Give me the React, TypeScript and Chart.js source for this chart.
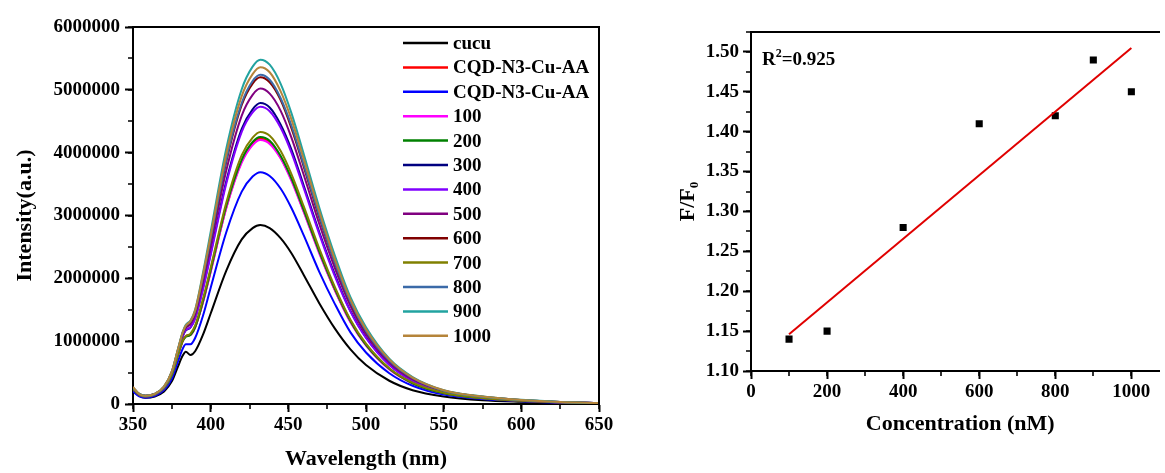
import React, { useEffect, useRef } from 'react';
import { Chart, registerables } from 'chart.js';

Chart.register(...registerables);

const FONT = "'Liberation Serif', 'Times New Roman', serif";

// ---------- Left panel: emission spectra (intensity in millions of a.u.) ----------
const WAVELENGTHS = [350, 354, 358, 364, 370, 375, 379, 382, 384, 387, 390, 395, 400, 410, 420, 427, 432, 438, 445, 452, 460, 470, 480, 490, 500, 515, 530, 550, 575, 600, 625, 650];

const CUCU = [0.22, 0.13, 0.10, 0.12, 0.20, 0.36, 0.60, 0.77, 0.83, 0.78, 0.84, 1.10, 1.44, 2.12, 2.62, 2.80, 2.85, 2.80, 2.64, 2.40, 2.05, 1.60, 1.20, 0.87, 0.62, 0.37, 0.22, 0.12, 0.06, 0.035, 0.02, 0.01];
const CQD_RED = [0.24, 0.14, 0.12, 0.15, 0.25, 0.46, 0.78, 1.00, 1.08, 1.10, 1.22, 1.62, 2.11, 3.12, 3.86, 4.14, 4.22, 4.16, 3.92, 3.57, 3.06, 2.41, 1.81, 1.31, 0.94, 0.56, 0.33, 0.17, 0.09, 0.05, 0.025, 0.01];
const CQD_BLUE = [0.20, 0.12, 0.10, 0.13, 0.22, 0.40, 0.68, 0.88, 0.95, 0.95, 1.05, 1.40, 1.85, 2.73, 3.38, 3.62, 3.69, 3.63, 3.43, 3.12, 2.68, 2.10, 1.59, 1.14, 0.82, 0.49, 0.29, 0.15, 0.08, 0.045, 0.02, 0.01];
const S100 = [0.24, 0.14, 0.12, 0.15, 0.25, 0.46, 0.78, 1.00, 1.08, 1.10, 1.22, 1.61, 2.10, 3.11, 3.84, 4.12, 4.20, 4.14, 3.91, 3.55, 3.05, 2.39, 1.81, 1.30, 0.93, 0.55, 0.33, 0.17, 0.09, 0.05, 0.025, 0.01];
const S200 = [0.24, 0.14, 0.12, 0.15, 0.25, 0.46, 0.78, 1.00, 1.07, 1.10, 1.22, 1.63, 2.13, 3.15, 3.89, 4.17, 4.25, 4.19, 3.95, 3.59, 3.08, 2.42, 1.83, 1.32, 0.94, 0.56, 0.33, 0.17, 0.09, 0.05, 0.025, 0.01];
const S300 = [0.25, 0.15, 0.12, 0.15, 0.26, 0.49, 0.83, 1.08, 1.17, 1.22, 1.37, 1.84, 2.40, 3.54, 4.38, 4.69, 4.79, 4.72, 4.45, 4.05, 3.47, 2.73, 2.06, 1.48, 1.06, 0.63, 0.37, 0.20, 0.105, 0.057, 0.029, 0.014];
const S400 = [0.25, 0.15, 0.12, 0.15, 0.26, 0.49, 0.83, 1.08, 1.18, 1.22, 1.36, 1.82, 2.37, 3.50, 4.33, 4.64, 4.73, 4.66, 4.40, 4.00, 3.43, 2.70, 2.03, 1.47, 1.05, 0.62, 0.37, 0.19, 0.104, 0.057, 0.028, 0.014];
const S500 = [0.25, 0.15, 0.13, 0.16, 0.27, 0.50, 0.85, 1.11, 1.21, 1.27, 1.42, 1.93, 2.51, 3.71, 4.59, 4.92, 5.02, 4.94, 4.67, 4.24, 3.64, 2.86, 2.16, 1.56, 1.11, 0.66, 0.39, 0.21, 0.11, 0.06, 0.03, 0.015];
const S600 = [0.26, 0.16, 0.13, 0.16, 0.27, 0.51, 0.86, 1.13, 1.23, 1.30, 1.46, 2.00, 2.60, 3.85, 4.76, 5.10, 5.20, 5.12, 4.84, 4.39, 3.77, 2.96, 2.24, 1.61, 1.15, 0.69, 0.41, 0.21, 0.114, 0.062, 0.031, 0.016];
const S700 = [0.24, 0.15, 0.12, 0.15, 0.26, 0.47, 0.79, 1.01, 1.08, 1.12, 1.25, 1.67, 2.17, 3.20, 3.96, 4.24, 4.33, 4.27, 4.03, 3.66, 3.14, 2.47, 1.86, 1.34, 0.96, 0.57, 0.34, 0.18, 0.095, 0.05, 0.026, 0.012];
const S800 = [0.26, 0.16, 0.13, 0.16, 0.27, 0.51, 0.87, 1.13, 1.24, 1.31, 1.47, 2.01, 2.62, 3.88, 4.79, 5.14, 5.24, 5.16, 4.87, 4.43, 3.80, 2.99, 2.25, 1.62, 1.16, 0.69, 0.41, 0.21, 0.115, 0.063, 0.031, 0.016];
const S900 = [0.26, 0.16, 0.13, 0.16, 0.28, 0.52, 0.88, 1.15, 1.26, 1.33, 1.50, 2.08, 2.74, 4.06, 5.01, 5.37, 5.48, 5.40, 5.10, 4.63, 3.97, 3.12, 2.36, 1.70, 1.22, 0.72, 0.43, 0.22, 0.12, 0.066, 0.033, 0.016];
const S1000 = [0.27, 0.16, 0.13, 0.16, 0.28, 0.52, 0.88, 1.14, 1.25, 1.32, 1.49, 2.05, 2.68, 3.97, 4.90, 5.25, 5.36, 5.28, 4.98, 4.53, 3.89, 3.06, 2.30, 1.66, 1.19, 0.71, 0.42, 0.22, 0.118, 0.064, 0.032, 0.016];

const SERIES_LABELS = ['cucu', 'CQD-N3-Cu-AA', 'CQD-N3-Cu-AA', '100', '200', '300', '400', '500', '600', '700', '800', '900', '1000'];
const SERIES_VALUES = [CUCU, CQD_RED, CQD_BLUE, S100, S200, S300, S400, S500, S600, S700, S800, S900, S1000];
const SERIES_COLORS = ['#000000', '#ff0000', '#0000ff', '#ff00ff', '#008000', '#000080', '#8000ff', '#800080', '#800000', '#808000', '#3b6aa8', '#22a3a0', '#b5843a'];

const X_TICKS_LEFT = [350, 400, 450, 500, 550, 600, 650];
const Y_TICKS_LEFT = [0, 1, 2, 3, 4, 5, 6];

// ---------- Right panel: F/F0 vs concentration ----------
const CONCENTRATION = [100, 200, 400, 600, 800, 900, 1000];
const RATIO = [1.14, 1.15, 1.28, 1.41, 1.42, 1.49, 1.45];
const FIT_X = [100, 1000];
const FIT_Y = [1.146, 1.505];
const R2_VALUE = '0.925';
const X_TICKS_RIGHT = [0, 200, 400, 600, 800, 1000];
const Y_TICKS_RIGHT = [1.10, 1.15, 1.20, 1.25, 1.30, 1.35, 1.40, 1.45, 1.50];

const tickFont = { family: FONT, size: 19, weight: 'bold' as const };
const titleFont = { family: FONT, size: 22, weight: 'bold' as const };

const framePlugin = {
  id: 'frame',
  afterDraw(chart: any, _args: any, opts: any) {
    const { ctx, chartArea: a, scales } = chart;
    ctx.save();
    ctx.strokeStyle = '#000';
    ctx.lineWidth = 2;
    ctx.beginPath();
    ctx.moveTo(a.left - 1, a.top);
    ctx.lineTo(a.right, a.top);
    if (opts.rightBorder) ctx.lineTo(a.right, a.bottom + 1);
    ctx.stroke();
    const xs = scales.x;
    const ys = scales.y;
    ctx.lineWidth = 1.6;
    ctx.beginPath();
    if (opts.xMinor) {
      for (let v = xs.min; v <= xs.max + 1e-9; v += opts.xMinor) {
        const p = Math.round(xs.getPixelForValue(v));
        ctx.moveTo(p, a.bottom);
        ctx.lineTo(p, a.bottom + opts.len);
      }
    }
    if (opts.yMinor) {
      for (let v = ys.min; v <= ys.max + 1e-9; v += opts.yMinor) {
        const p = Math.round(ys.getPixelForValue(v));
        ctx.moveTo(a.left, p);
        ctx.lineTo(a.left - opts.len, p);
      }
    }
    ctx.stroke();
    ctx.restore();
  },
};

const insideLegendPlugin = {
  id: 'insideLegend',
  afterDraw(chart: any, _args: any, opts: any) {
    if (!opts || !opts.enabled) return;
    const { ctx, chartArea: a } = chart;
    ctx.save();
    ctx.font = `bold 19px ${FONT}`;
    ctx.textBaseline = 'middle';
    ctx.textAlign = 'left';
    chart.data.datasets.forEach((ds: any, i: number) => {
      const y = a.top + opts.top + i * opts.rowH;
      const x0 = a.right - opts.fromRight;
      ctx.strokeStyle = ds.borderColor;
      ctx.lineWidth = 2.5;
      ctx.beginPath();
      ctx.moveTo(x0, y);
      ctx.lineTo(x0 + opts.lineLen, y);
      ctx.stroke();
      ctx.fillStyle = '#000';
      ctx.fillText(ds.label, x0 + opts.lineLen + 5, y + 1);
    });
    ctx.restore();
  },
};

const r2Plugin = {
  id: 'r2Label',
  afterDraw(chart: any, _args: any, opts: any) {
    if (!opts || !opts.text) return;
    const { ctx, chartArea: a } = chart;
    ctx.save();
    ctx.fillStyle = '#000';
    ctx.textBaseline = 'alphabetic';
    ctx.textAlign = 'left';
    const x = a.left + 11;
    const base = a.top + 33;
    ctx.font = `bold 19px ${FONT}`;
    ctx.fillText('R', x, base);
    const wR = ctx.measureText('R').width;
    ctx.font = `bold 12px ${FONT}`;
    ctx.fillText('2', x + wR, base - 8);
    const w2 = ctx.measureText('2').width;
    ctx.font = `bold 19px ${FONT}`;
    ctx.fillText('=' + opts.text, x + wR + w2, base);
    ctx.restore();
  },
};

export default function App() {
  const leftRef = useRef<HTMLCanvasElement | null>(null);
  const rightRef = useRef<HTMLCanvasElement | null>(null);

  useEffect(() => {
    const n = SERIES_VALUES.length;
    const left = new Chart(leftRef.current as HTMLCanvasElement, {
      type: 'line',
      data: {
        datasets: SERIES_VALUES.map((vals, i) => ({
          label: SERIES_LABELS[i],
          data: WAVELENGTHS.map((w, j) => ({ x: w, y: vals[j] })),
          borderColor: SERIES_COLORS[i],
          backgroundColor: SERIES_COLORS[i],
          borderWidth: 2,
          pointRadius: 0,
          cubicInterpolationMode: 'monotone',
          fill: false,
          order: n - i,
        })),
      },
      options: {
        responsive: false,
        animation: false,
        events: [],
        layout: { padding: { left: 0, top: 27, right: 21, bottom: 0 } },
        plugins: {
          legend: { display: false },
          tooltip: { enabled: false },
          frame: { xMinor: 25, yMinor: 0.5, len: 5, rightBorder: true },
          insideLegend: { enabled: true, top: 16, rowH: 24.4, fromRight: 196, lineLen: 45 },
        } as any,
        scales: {
          x: {
            type: 'linear',
            min: 350,
            max: 650,
            afterFit: (s: any) => { s.height = 69; },
            afterBuildTicks: (s: any) => { s.ticks = X_TICKS_LEFT.map((v) => ({ value: v })); },
            ticks: { font: tickFont, color: '#000', padding: 2, maxRotation: 0, autoSkip: false, callback: (v: any) => String(v) },
            grid: { display: true, drawOnChartArea: false, drawTicks: true, tickLength: 8, tickColor: '#000', tickWidth: 2 },
            border: { display: true, color: '#000', width: 2 },
            title: { display: true, text: 'Wavelength (nm)', font: titleFont, color: '#000', padding: { top: 0, bottom: 0 } },
          },
          y: {
            type: 'linear',
            min: 0,
            max: 6,
            afterFit: (s: any) => { s.width = 133; },
            afterBuildTicks: (s: any) => { s.ticks = Y_TICKS_LEFT.map((v) => ({ value: v })); },
            ticks: {
              font: tickFont,
              color: '#000',
              padding: 5,
              autoSkip: false,
              callback: (v: any) => (Number(v) * 1000000).toFixed(0),
            },
            grid: { display: true, drawOnChartArea: false, drawTicks: true, tickLength: 8, tickColor: '#000', tickWidth: 2 },
            border: { display: true, color: '#000', width: 2 },
            title: { display: true, text: 'Intensity(a.u.)', font: titleFont, color: '#000', padding: { top: 12, bottom: 0 } },
          },
        },
      } as any,
      plugins: [framePlugin, insideLegendPlugin],
    });

    const right = new Chart(rightRef.current as HTMLCanvasElement, {
      type: 'scatter',
      data: {
        datasets: [
          {
            label: 'F/F0',
            data: CONCENTRATION.map((c, i) => ({ x: c, y: RATIO[i] })),
            pointStyle: 'rect',
            pointRadius: 5,
            backgroundColor: '#000',
            borderColor: '#000',
            borderWidth: 0,
            showLine: false,
            order: 2,
          },
          {
            label: 'Linear fit',
            data: FIT_X.map((c, i) => ({ x: c, y: FIT_Y[i] })),
            borderColor: '#e00000',
            backgroundColor: '#e00000',
            borderWidth: 2,
            pointRadius: 0,
            showLine: true,
            order: 1,
          },
        ],
      },
      options: {
        responsive: false,
        animation: false,
        events: [],
        layout: { padding: { left: 0, top: 32, right: 30.6, bottom: 0 } },
        plugins: {
          legend: { display: false },
          tooltip: { enabled: false },
          frame: { xMinor: 100, yMinor: 0.025, len: 5, rightBorder: false },
          r2Label: { text: R2_VALUE },
        } as any,
        scales: {
          x: {
            type: 'linear',
            min: 0,
            max: 1100,
            afterFit: (s: any) => { s.height = 102; },
            afterBuildTicks: (s: any) => { s.ticks = X_TICKS_RIGHT.map((v) => ({ value: v })); },
            ticks: { font: tickFont, color: '#000', padding: 2, maxRotation: 0, autoSkip: false, callback: (v: any) => String(v) },
            grid: { display: true, drawOnChartArea: false, drawTicks: true, tickLength: 8, tickColor: '#000', tickWidth: 2 },
            border: { display: true, color: '#000', width: 2 },
            title: { display: true, text: 'Concentration (nM)', font: titleFont, color: '#000', padding: { top: 0, bottom: 35 } },
          },
          y: {
            type: 'linear',
            min: 1.1,
            max: 1.525,
            afterFit: (s: any) => { s.width = 111; },
            afterBuildTicks: (s: any) => { s.ticks = Y_TICKS_RIGHT.map((v) => ({ value: v })); },
            ticks: {
              font: tickFont,
              color: '#000',
              padding: 4,
              autoSkip: false,
              callback: (v: any) => Number(v).toFixed(2),
            },
            grid: { display: true, drawOnChartArea: false, drawTicks: true, tickLength: 8, tickColor: '#000', tickWidth: 2 },
            border: { display: true, color: '#000', width: 2 },
            title: { display: true, text: 'F/F₀', font: titleFont, color: '#000', padding: { top: 35, bottom: 0 } },
          },
        },
      } as any,
      plugins: [framePlugin, r2Plugin],
    });

    return () => {
      left.destroy();
      right.destroy();
    };
  }, []);

  return (
    <div style={{ position: 'fixed', left: 0, top: 0, width: 1160, height: 473, overflow: 'hidden', background: '#ffffff' }}>
      <canvas ref={leftRef} width={620} height={473} style={{ position: 'absolute', left: 0, top: 0 }} />
      <canvas ref={rightRef} width={560} height={473} style={{ position: 'absolute', left: 640, top: 0 }} />
    </div>
  );
}
